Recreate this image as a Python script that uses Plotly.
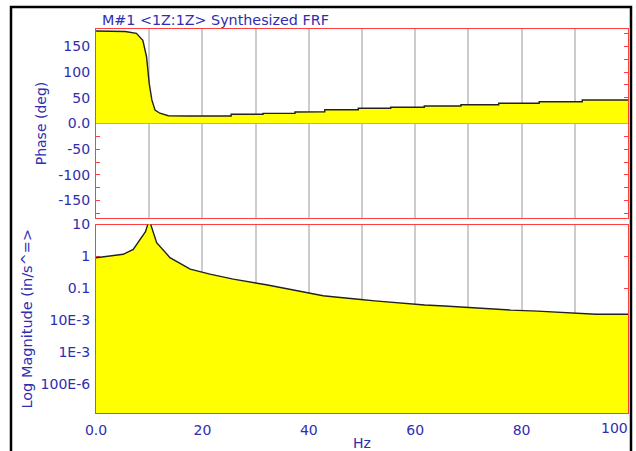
import plotly.graph_objects as go

# ---- data ----
phase_hz = [0, 3, 5.5, 7.6, 8.8, 9.5, 10.0, 10.5, 11.1, 12.0, 13.6, 17.3, 25.4, 25.4, 31.4, 31.4, 37.4, 37.4,
            43.0, 43.0, 49.3, 49.3, 55.4, 55.4, 61.7, 61.7, 68.6, 68.6, 75.7, 75.7, 83.3, 83.3, 91.4, 91.4, 100]
phase_deg = [180, 180, 179, 175.5, 162, 130, 78, 46, 26, 20, 15.2, 14.6, 14.6, 17.9, 17.9, 19.8, 19.8, 22.4,
             23.0, 26.9, 26.9, 29.6, 29.6, 31.5, 31.5, 34.1, 34.1, 36.6, 36.6, 39.3, 39.3, 42.4, 42.4, 45.7, 45.7]

mag_hz = [0, 2.7, 5.1, 7.0, 8.3, 9.3, 10.0, 11.4, 13.9, 17.7, 21.4, 25.8, 32.0, 40.3, 41.4, 42.7, 44.5,
          47.0, 49.8, 52.4, 55.2, 58.6, 61.8, 65.5, 69.3, 73.6, 78.0, 83.0, 88.2, 94.0, 100]
mag_val = [0.91, 1.03, 1.17, 1.67, 3.4, 6.0, 14.0, 2.7, 0.92, 0.40, 0.28, 0.195, 0.130, 0.070,
           0.0676, 0.0589, 0.0550, 0.0490, 0.0447, 0.0407, 0.0372, 0.0331, 0.0302, 0.0282, 0.0257, 0.0229,
           0.0209, 0.0195, 0.0174, 0.0155, 0.0155]

x_ticks = [0, 10, 20, 30, 40, 50, 60, 70, 80, 90, 100]
x_labels = ["0.0", "", "20", "", "40", "", "60", "", "80", "", "100"]
phase_ticks = [-175, -150, -125, -100, -75, -50, -25, 0, 25, 50, 75, 100, 125, 150, 175]
phase_labels = ["", "-150", "", "-100", "", "-50", "", "0.0", "", "50", "", "100", "", "150", ""]
mag_ticks = [10, 1, 0.1, 0.01, 0.001, 0.0001, 0.00001]
mag_labels = ["10", "1", "0.1", "10E-3", "1E-3", "100E-6", ""]

title_text = "M#1 <1Z:1Z> Synthesized FRF"
# ---------------------------------------

BLUE = "#2e2eb0"
RED = "#ff4040"
GRID = "#cccccc"
FONT = "DejaVu Sans"

fig = go.Figure()
fig.add_trace(go.Scatter(x=phase_hz, y=phase_deg, mode="lines", fill="tozeroy",
                         fillcolor="#ffff00", line=dict(color="#222222", width=1.4),
                         xaxis="x", yaxis="y", hoverinfo="skip"))
fig.add_trace(go.Scatter(x=mag_hz, y=[1e-7] * len(mag_hz), mode="lines",
                         line=dict(width=0), xaxis="x2", yaxis="y2", hoverinfo="skip"))
fig.add_trace(go.Scatter(x=mag_hz, y=mag_val, mode="lines", fill="tonexty",
                         fillcolor="#ffff00", line=dict(color="#222222", width=1.4),
                         xaxis="x2", yaxis="y2", hoverinfo="skip"))

W, H = 636, 451
L, R, T, B = 96, 628, 29, 413
pw, ph = R - L, B - T

def py(pix):
    return (B - pix) / ph

def px(pix):
    return (pix - L) / pw

# the last x label sits flush with the right edge in the reference
axis_labels = x_labels[:-1] + [""]

common_x = dict(range=[0, 100], tickvals=x_ticks, showgrid=True, gridcolor=GRID, gridwidth=1.5,
                showline=True, linecolor=RED, linewidth=1.2, mirror=True, zeroline=False,
                ticks="", layer="below traces", automargin=False,
                tickfont=dict(family=FONT, size=14, color=BLUE))

fig.update_layout(
    width=W, height=H,
    margin=dict(l=L, r=W - R, t=T, b=H - B),
    paper_bgcolor="white", plot_bgcolor="white",
    showlegend=False,
    font=dict(family=FONT, size=14, color=BLUE),
    xaxis=dict(common_x, anchor="y", showticklabels=False),
    yaxis=dict(domain=[py(218), 1], range=[-184, 184], tickvals=phase_ticks, ticktext=phase_labels,
               ticks="inside", ticklen=4, tickcolor=RED, tickwidth=1.2,
               showline=True, linecolor=RED, linewidth=1.2, mirror="ticks",
               showgrid=False, zeroline=True, zerolinecolor=RED, zerolinewidth=1.2,
               layer="below traces", ticklabelstandoff=2, automargin=False,
               tickfont=dict(family=FONT, size=14, color=BLUE),
               title=dict(text="Phase (deg)", standoff=8, font=dict(family=FONT, size=14, color=BLUE))),
    xaxis2=dict(common_x, anchor="y2", ticktext=axis_labels, ticklabelstandoff=4,
                title=dict(text="Hz", standoff=4, font=dict(family=FONT, size=14, color=BLUE))),
    yaxis2=dict(domain=[0, py(224.5)], type="log", range=[-4.9, 1.0],
                tickvals=mag_ticks, ticktext=mag_labels,
                ticks="inside", ticklen=4, tickcolor=RED, tickwidth=1.2,
                showline=True, linecolor=RED, linewidth=1.2, mirror="ticks",
                showgrid=False, zeroline=False, layer="below traces", ticklabelstandoff=2,
                automargin=False,
                tickfont=dict(family=FONT, size=14, color=BLUE),
                title=dict(text="Log Magnitude (in/s^=>", standoff=4,
                           font=dict(family=FONT, size=14.5, color=BLUE))),
)

fig.add_annotation(text=x_labels[-1], xref="x2", yref="paper", x=x_ticks[-1], y=py(428),
                   xanchor="right", yanchor="middle", showarrow=False, xshift=2,
                   font=dict(family=FONT, size=14, color=BLUE))

fig.add_annotation(text=title_text, xref="paper", yref="paper", x=px(100), y=py(20),
                   xanchor="left", yanchor="middle", showarrow=False,
                   font=dict(family=FONT, size=14.3, color=BLUE))

fig.add_shape(type="rect", xref="paper", yref="paper",
              x0=px(11), x1=px(631), y0=py(470), y1=py(7),
              line=dict(color="black", width=2.5), layer="above")

fig.write_html("out.html")
